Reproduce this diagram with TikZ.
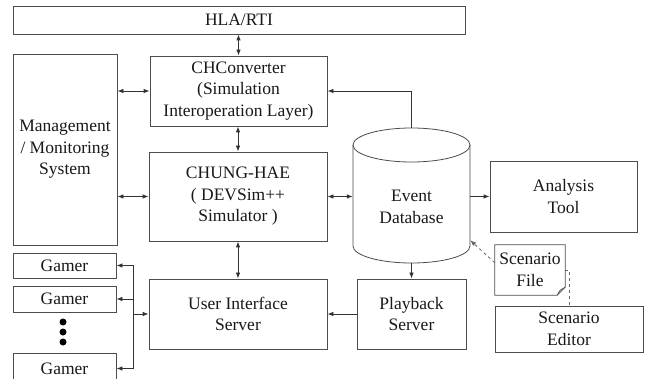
\documentclass[tikz,border=0pt]{standalone}
\usepackage{fontspec}
\setmainfont{Liberation Serif}
\usetikzlibrary{arrows.meta}
\begin{document}
\begin{tikzpicture}[x=1pt,y=-1pt, >={Latex[length=6pt,width=4.5pt]},
        box/.style={draw=black!70, line width=0.8pt, inner sep=0pt, align=center,
            font=\fontsize{17.5}{21.5}\selectfont, text=black!90},
        txt/.style={inner sep=0pt, align=center, font=\fontsize{17.5}{21.5}\selectfont, text=black!90},
        link/.style={draw=black!80, line width=0.8pt}]
        \clip (0,0) rectangle (645,379);
        \fill[white] (0,0) rectangle (645,379);

        % blocks
        \node[box, minimum width=452, minimum height=28] (hla) at (239,20) {HLA/RTI};
        \node[box, minimum width=104, minimum height=191] (mgmt) at (65,149.5) {Management\\/ Monitoring\\System};
        \node[box, minimum width=177, minimum height=70] (chconv) at (238.5,91) {CHConverter\\(Simulation\\Interoperation Layer)};
        \node[box, minimum width=178, minimum height=89] (chung) at (238,196.5) {CHUNG-HAE\\( DEVSim++\\Simulator )};
        \node[box, minimum width=178, minimum height=70] (ui) at (238,314) {User Interface\\Server};
        \node[box, minimum width=109, minimum height=70] (playback) at (411.5,314) {Playback\\Server};
        \node[box, minimum width=147, minimum height=71] (analysis) at (563.5,196.5) {Analysis\\Tool};
        \node[box, minimum width=148, minimum height=46] (editor) at (569,329) {Scenario\\Editor};

        % event database
        \node[inner sep=0pt, minimum width=117, minimum height=135] (db) at (411.5,195.5) {};
        \draw[link, draw=black!70] (353,145) -- (353,246) arc[start angle=180, end angle=0, x radius=58.5, y radius=17]
            -- (470,145);
        \draw[link, draw=black!70] (411.5,145) ellipse [x radius=58.5, y radius=17];
        \node[txt] (dbtext) at (411.5,207) {Event\\Database};

        % scenario file
        \node[txt, minimum width=70, minimum height=50] (sfile) at (530,270) {Scenario\\File};
        \draw[link, draw=black!70] (sfile.north west) -- (sfile.north east) -- ([yshift=8pt]sfile.south east)
            -- ([xshift=-8pt]sfile.south east) -- (sfile.south west) -- cycle;
        \draw[link, draw=black!70] ([yshift=8pt]sfile.south east) -- ([xshift=-5pt,yshift=5pt]sfile.south east)
            -- ([xshift=-8pt]sfile.south east);

        % gamers
        \node[box, minimum width=103, minimum height=25] (g1) at (64.5,265.5) {Gamer};
        \node[box, minimum width=103, minimum height=26] (g2) at (64.5,299) {Gamer};
        \node[box, minimum width=103, minimum height=31] (g3) at (64.5,368.5) {Gamer};
        \foreach \y in {322,332,342}
            \fill[black] (63,\y) circle (3.5);

        % connectors
        \draw[link, <->] (chconv.north |- hla.south) -- (chconv.north);
        \draw[link, <->] (chconv.west -| mgmt.east) -- (chconv.west);
        \draw[link, <->] (chung.north |- chconv.south) -- (chung.north);
        \draw[link, <->] (chung.west -| mgmt.east) -- (chung.west);
        \draw[link, <->] (chung.east) -- (chung.east -| db.west);
        \draw[link, <->] (chung.south) -- (ui.north);
        \draw[link, ->] (db.north) |- (chconv.east);
        \draw[link, ->] (analysis.west -| db.east) -- (analysis.west);
        \draw[link, ->] (db.south) -- (playback.north);
        \draw[link, ->] (playback.west) -- (ui.east);

        \coordinate (bus) at (133,313);
        \draw[link] (g1.east -| bus) -- (g3.east -| bus);
        \foreach \g in {g1,g2,g3}
            \draw[link, ->] (\g.east -| bus) -- (\g.east);
        \draw[link, ->] (ui.west -| bus) -- (ui.west);

        \draw[link, draw=black!60, dashed, ->] ([yshift=-18pt]sfile.north west) -- ([yshift=23pt]db.south east);
        \draw[link, draw=black!60, dashed] (sfile.east) -| (editor.north);

    \end{tikzpicture}
\end{document}
